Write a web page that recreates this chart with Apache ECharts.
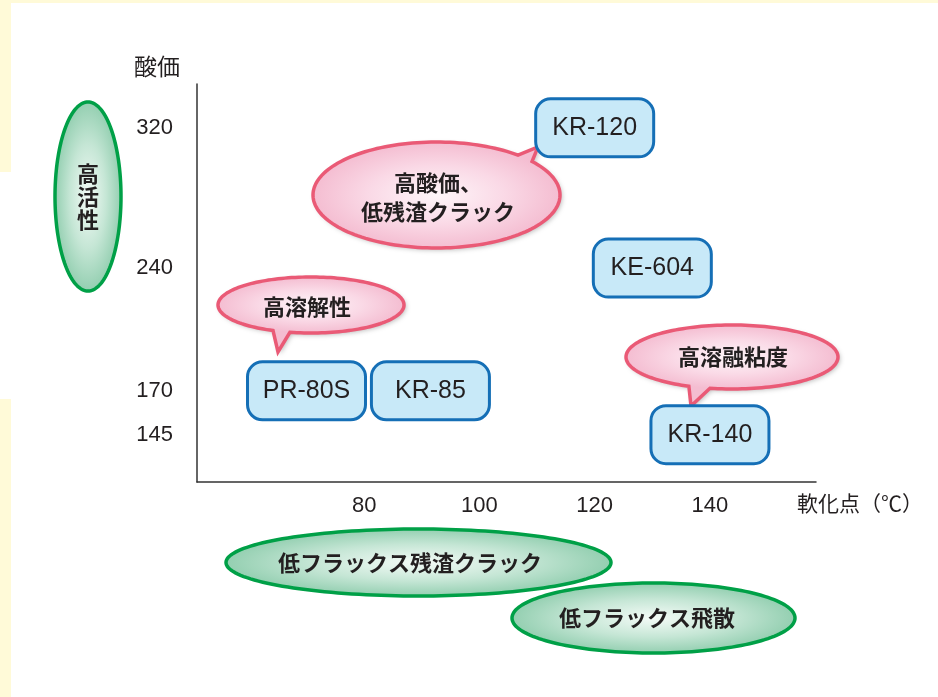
<!DOCTYPE html>
<html>
<head>
<meta charset="utf-8">
<script src="https://cdn.jsdelivr.net/npm/echarts@6/dist/echarts.min.js"></script>
<style>
html,body{margin:0;padding:0;background:#fff;}
#chart{width:938px;height:697px;}
</style>
</head>
<body>
<div id="chart"></div>
<script>
// ---- data ----
const products = ['PR-80S', 'KR-85', 'KR-120', 'KE-604', 'KR-140'];
const softeningPoint = [70, 91.5, 120, 130, 140];   // 軟化点 (℃)
const acidValue = [170, 170, 320, 240, 145];        // 酸価
const xTickValues = [80, 100, 120, 140];
const yTickValues = [320, 240, 170, 145];
const calloutTexts = ['高酸価、\n低残渣クラック', '高溶解性', '高溶融粘度'];
const featureTexts = ['高\n活\n性', '低フラックス残渣クラック', '低フラックス飛散'];

const JP = '"Noto Sans CJK JP", "Noto Sans", sans-serif';
const LAT = '"Liberation Sans", Arial, sans-serif';
const TXT = '#231f20';

function ellipsePts(cx, cy, rx, ry, a0, a1, tip) {
  const pts = [];
  const n = 160;
  for (let i = 0; i <= n; i++) {
    const t = (a0 + (a1 - a0) * i / n) * Math.PI / 180;
    pts.push([cx + rx * Math.cos(t), cy + ry * Math.sin(t)]);
  }
  if (tip) pts.push(tip);
  return pts;
}

function shapeEls(pts, cx, cy, rx, ry, stops, stroke, lw, shadow) {
  const s = rx / ry;
  const fillEl = {
    type: 'polygon',
    x: cx, y: cy, scaleX: s, scaleY: 1,
    shape: { points: pts.map(p => [(p[0] - cx) / s, p[1] - cy]) },
    style: {
      fill: { type: 'radial', x: 0, y: 0, r: ry, global: true, colorStops: stops },
      shadowBlur: shadow ? 5 : 0,
      shadowOffsetX: shadow ? 2 : 0,
      shadowOffsetY: shadow ? 2 : 0,
      shadowColor: 'rgba(0,0,0,0.28)'
    },
    silent: true
  };
  const strokeEl = {
    type: 'polygon',
    shape: { points: pts },
    style: { fill: null, stroke: stroke, lineWidth: lw, lineJoin: 'miter' },
    silent: true
  };
  return [fillEl, strokeEl];
}

const pinkStops = [{ offset: 0, color: '#fef6f9' }, { offset: 0.55, color: '#fad9e6' }, { offset: 1, color: '#f4bdd1' }];
const greenStops = [{ offset: 0, color: '#f4fbf7' }, { offset: 0.55, color: '#c5e6d5' }, { offset: 1, color: '#94cfb1' }];
const PINK = '#ea5a76';
const GREEN = '#00a047';

const graphics = [];
// background frame (light yellow)
graphics.push({ type: 'rect', shape: { x: 0, y: 0, width: 938, height: 3 }, style: { fill: '#fffad8' }, silent: true });
graphics.push({ type: 'rect', shape: { x: 0, y: 0, width: 11, height: 172 }, style: { fill: '#fffad8' }, silent: true });
graphics.push({ type: 'rect', shape: { x: 0, y: 399, width: 11, height: 298 }, style: { fill: '#fffad8' }, silent: true });

// green feature ellipses
graphics.push(...shapeEls(ellipsePts(88, 196.5, 33, 94.5, 0, 360), 88, 196.5, 33, 94.5, greenStops, GREEN, 3.5, false));
graphics.push(...shapeEls(ellipsePts(418.5, 562.5, 192.5, 33.5, 0, 360), 418.5, 562.5, 192.5, 33.5, greenStops, GREEN, 3.5, false));
graphics.push(...shapeEls(ellipsePts(653.5, 618, 141.5, 35, 0, 360), 653.5, 618, 141.5, 35, greenStops, GREEN, 3.5, false));
graphics.push({ type: 'text', x: 88, y: 197, style: { text: featureTexts[0], font: 'bold 22px ' + JP, fill: TXT, align: 'center', verticalAlign: 'middle', lineHeight: 23 }, silent: true });
graphics.push({ type: 'text', x: 410, y: 563, style: { text: featureTexts[1], font: 'bold 22px ' + JP, fill: TXT, align: 'center', verticalAlign: 'middle' }, silent: true });
graphics.push({ type: 'text', x: 647, y: 618, style: { text: featureTexts[2], font: 'bold 22px ' + JP, fill: TXT, align: 'center', verticalAlign: 'middle' }, silent: true });

// pink callouts
graphics.push(...shapeEls(ellipsePts(436.5, 195, 123.5, 53, -39.3, 311.3, [538, 147]), 436.5, 195, 123.5, 53, pinkStops, PINK, 3.5, true));
graphics.push(...shapeEls(ellipsePts(311, 305, 93, 28, 114.1, 463.1, [278, 352]), 311, 305, 93, 28, pinkStops, PINK, 3.5, true));
graphics.push(...shapeEls(ellipsePts(732, 357, 106, 32, 114, 462, [691, 406]), 732, 357, 106, 32, pinkStops, PINK, 3.5, true));
graphics.push({ type: 'text', x: 438, y: 197.5, style: { text: calloutTexts[0], font: 'bold 22px ' + JP, fill: TXT, align: 'center', verticalAlign: 'middle', lineHeight: 29 }, silent: true });
graphics.push({ type: 'text', x: 307, y: 307, style: { text: calloutTexts[1], font: 'bold 22px ' + JP, fill: TXT, align: 'center', verticalAlign: 'middle' }, silent: true });
graphics.push({ type: 'text', x: 733, y: 357, style: { text: calloutTexts[2], font: 'bold 22px ' + JP, fill: TXT, align: 'center', verticalAlign: 'middle' }, silent: true });

const chart = echarts.init(document.getElementById('chart'), null, { renderer: 'canvas' });
chart.setOption({
  backgroundColor: '#ffffff',
  animation: false,
  grid: { left: 197, right: 122, top: 84, bottom: 215 },
  xAxis: {
    type: 'value', min: 51, max: 158.4,
    name: '軟化点（℃）', nameLocation: 'end', nameGap: -19,
    nameTextStyle: { color: TXT, fontSize: 21, fontFamily: JP, verticalAlign: 'top', align: 'left', padding: [11, 0, 0, 0] },
    axisLine: { show: true, lineStyle: { color: '#333', width: 1.5 } },
    axisTick: { show: false },
    splitLine: { show: false },
    axisLabel: { customValues: xTickValues, color: TXT, fontSize: 22, fontFamily: LAT, margin: 13 }
  },
  yAxis: {
    type: 'value', min: 118, max: 345,
    name: '酸価', nameLocation: 'end', nameGap: 6,
    nameTextStyle: { color: TXT, fontSize: 23, fontFamily: JP, align: 'right', verticalAlign: 'bottom', padding: [0, 17, 0, 0] },
    axisLine: { show: true, lineStyle: { color: '#333', width: 1.5 } },
    axisTick: { show: false },
    splitLine: { show: false },
    axisLabel: { customValues: yTickValues, color: TXT, fontSize: 22, fontFamily: LAT, margin: 24 }
  },
  graphic: { elements: graphics },
  series: [{
    type: 'custom',
    z: 5,
    clip: false,
    data: softeningPoint.map((x, i) => [x, acidValue[i]]),
    renderItem: function (params, api) {
      const p = api.coord([api.value(0), api.value(1)]);
      return {
        type: 'rect',
        shape: { x: p[0] - 59, y: p[1] - 29, width: 118, height: 58, r: 15 },
        style: { fill: '#c8e9f8', stroke: '#156fb6', lineWidth: 3 },
        textContent: { style: { text: products[params.dataIndex], fill: TXT, font: '25px ' + LAT } },
        textConfig: { position: 'inside' }
      };
    }
  }]
});
</script>
</body>
</html>
